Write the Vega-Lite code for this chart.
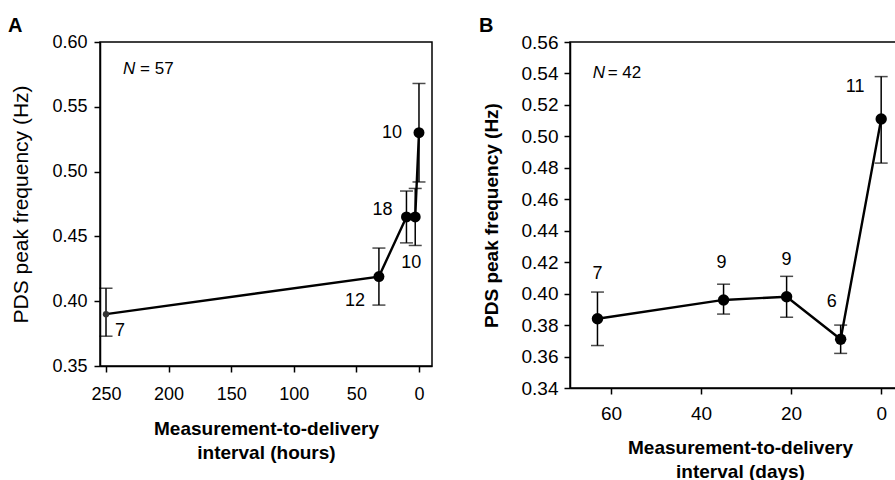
{
  "$schema": "https://vega.github.io/schema/vega-lite/v6.json",
  "padding": {"left": 7, "top": 15, "right": 0, "bottom": 0},
  "spacing": 45,
  "config": {
    "font": "Liberation Sans",
    "view": {"stroke": "black", "strokeWidth": 1.5},
    "axis": {"grid": false, "domainColor": "black", "domainWidth": 1.5, "tickColor": "black", "tickWidth": 1.5, "tickSize": 6, "labelColor": "black", "titleColor": "black", "labelFont": "Liberation Sans", "titleFont": "Liberation Sans"},
    "title": {"font": "Liberation Sans", "color": "black"},
    "text": {"font": "Liberation Sans", "color": "black"}
  },
  "hconcat": [
    {
      "width": 332,
      "height": 324,
      "title": {"text": "A", "anchor": "start", "frame": "group", "dx": -92, "fontSize": 20, "fontWeight": "bold", "offset": -3},
      "data": {"values": [
        {"h": 250, "f": 0.390, "lo": 0.373, "hi": 0.410, "n": "7"},
        {"h": 32, "f": 0.419, "lo": 0.397, "hi": 0.441, "n": "12"},
        {"h": 10, "f": 0.465, "lo": 0.445, "hi": 0.485, "n": "18"},
        {"h": 3, "f": 0.465, "lo": 0.443, "hi": 0.487, "n": "10"},
        {"h": 0, "f": 0.530, "lo": 0.492, "hi": 0.568, "n": "10"}
      ]},
      "encoding": {
        "x": {"field": "h", "type": "quantitative",
          "scale": {"domain": [-10.4, 254.8], "reverse": true, "nice": false, "zero": false},
          "axis": {"values": [0, 50, 100, 150, 200, 250], "labelFontSize": 18, "labelPadding": 13, "titleFontSize": 19, "titleFontWeight": "bold", "titlePadding": 16, "titleLineHeight": 24,
            "title": ["Measurement-to-delivery", "interval (hours)"]}},
        "y": {"field": "f", "type": "quantitative", "title": "PDS peak frequency (Hz)",
          "scale": {"domain": [0.35, 0.60], "nice": false, "zero": false},
          "axis": {"values": [0.35, 0.40, 0.45, 0.50, 0.55, 0.60], "format": ".2f", "labelFontSize": 18, "labelPadding": 7, "titleFontSize": 21, "titleFontWeight": "normal", "titlePadding": 20}}
      },
      "layer": [
        {"mark": {"type": "rule", "strokeWidth": 1.5, "color": "black"},
          "encoding": {"y": {"field": "lo", "type": "quantitative", "title": "PDS peak frequency (Hz)"}, "y2": {"field": "hi"}}},
        {"mark": {"type": "tick", "orient": "horizontal", "size": 13, "thickness": 1.5, "color": "black"},
          "encoding": {"y": {"field": "lo", "type": "quantitative", "title": "PDS peak frequency (Hz)"}}},
        {"mark": {"type": "tick", "orient": "horizontal", "size": 13, "thickness": 1.5, "color": "black"},
          "encoding": {"y": {"field": "hi", "type": "quantitative", "title": "PDS peak frequency (Hz)"}}},
        {"mark": {"type": "line", "color": "black", "strokeWidth": 2.4}},
        {"transform": [{"filter": "datum.h != 250"}],
          "mark": {"type": "point", "filled": true, "shape": "circle", "size": 120, "color": "black", "opacity": 1}},
        {"transform": [{"filter": "datum.h == 250"}],
          "mark": {"type": "point", "filled": true, "shape": "circle", "size": 40, "color": "#333333", "opacity": 1}},
        {"transform": [{"filter": "datum.h == 250"}],
          "mark": {"type": "text", "fontSize": 18, "baseline": "middle", "dx": 14, "dy": 17}, "encoding": {"text": {"field": "n"}}},
        {"transform": [{"filter": "datum.h == 32"}],
          "mark": {"type": "text", "fontSize": 18, "baseline": "middle", "dx": -24, "dy": 24}, "encoding": {"text": {"field": "n"}}},
        {"transform": [{"filter": "datum.h == 10"}],
          "mark": {"type": "text", "fontSize": 18, "baseline": "middle", "dx": -24, "dy": -7}, "encoding": {"text": {"field": "n"}}},
        {"transform": [{"filter": "datum.h == 3"}],
          "mark": {"type": "text", "fontSize": 18, "baseline": "middle", "dx": -4, "dy": 46}, "encoding": {"text": {"field": "n"}}},
        {"transform": [{"filter": "datum.h == 0"}],
          "mark": {"type": "text", "fontSize": 18, "baseline": "middle", "dx": -27, "dy": 0}, "encoding": {"text": {"field": "n"}}},
        {"transform": [{"filter": "datum.h == 250"}],
          "mark": {"type": "text", "text": "N", "fontStyle": "italic", "fontSize": 17, "align": "left", "baseline": "middle"},
          "encoding": {"x": {"datum": 236.4, "type": "quantitative"}, "y": {"datum": 0.579, "type": "quantitative"}}},
        {"transform": [{"filter": "datum.h == 250"}],
          "mark": {"type": "text", "text": "= 57", "fontSize": 17, "align": "left", "baseline": "middle", "dx": 17},
          "encoding": {"x": {"datum": 236.4, "type": "quantitative"}, "y": {"datum": 0.579, "type": "quantitative"}}}
      ]
    },
    {
      "width": 340,
      "height": 346,
      "title": {"text": "B", "anchor": "start", "frame": "group", "dx": -91, "fontSize": 20, "fontWeight": "bold", "offset": -3},
      "data": {"values": [
        {"d": 63, "f": 0.384, "lo": 0.367, "hi": 0.401, "n": "7"},
        {"d": 35, "f": 0.396, "lo": 0.387, "hi": 0.406, "n": "9"},
        {"d": 21, "f": 0.398, "lo": 0.385, "hi": 0.411, "n": "9"},
        {"d": 9, "f": 0.371, "lo": 0.362, "hi": 0.380, "n": "6"},
        {"d": 0, "f": 0.511, "lo": 0.483, "hi": 0.538, "n": "11"}
      ]},
      "encoding": {
        "x": {"field": "d", "type": "quantitative",
          "scale": {"domain": [-6.4, 69.1], "reverse": true, "nice": false, "zero": false},
          "axis": {"values": [0, 20, 40, 60], "labelFontSize": 19, "labelPadding": 10, "titleFontSize": 19, "titleFontWeight": "bold", "titlePadding": 15, "titleLineHeight": 24,
            "title": ["Measurement-to-delivery", "interval (days)"]}},
        "y": {"field": "f", "type": "quantitative", "title": "PDS peak frequency (Hz)",
          "scale": {"domain": [0.34, 0.56], "nice": false, "zero": false},
          "axis": {"values": [0.34, 0.36, 0.38, 0.40, 0.42, 0.44, 0.46, 0.48, 0.50, 0.52, 0.54, 0.56], "format": ".2f", "labelFontSize": 19, "labelPadding": 6, "titleFontSize": 19, "titleFontWeight": "bold", "titlePadding": 20}}
      },
      "layer": [
        {"mark": {"type": "rule", "strokeWidth": 1.5, "color": "black"},
          "encoding": {"y": {"field": "lo", "type": "quantitative", "title": "PDS peak frequency (Hz)"}, "y2": {"field": "hi"}}},
        {"mark": {"type": "tick", "orient": "horizontal", "size": 13, "thickness": 1.5, "color": "black"},
          "encoding": {"y": {"field": "lo", "type": "quantitative", "title": "PDS peak frequency (Hz)"}}},
        {"mark": {"type": "tick", "orient": "horizontal", "size": 13, "thickness": 1.5, "color": "black"},
          "encoding": {"y": {"field": "hi", "type": "quantitative", "title": "PDS peak frequency (Hz)"}}},
        {"mark": {"type": "line", "color": "black", "strokeWidth": 2.4}},
        {"mark": {"type": "point", "filled": true, "shape": "circle", "size": 130, "color": "black", "opacity": 1}},
        {"transform": [{"filter": "datum.d == 63"}],
          "mark": {"type": "text", "fontSize": 18, "baseline": "middle", "dx": 0, "dy": -45}, "encoding": {"text": {"field": "n"}}},
        {"transform": [{"filter": "datum.d == 35"}],
          "mark": {"type": "text", "fontSize": 18, "baseline": "middle", "dx": -2, "dy": -37}, "encoding": {"text": {"field": "n"}}},
        {"transform": [{"filter": "datum.d == 21"}],
          "mark": {"type": "text", "fontSize": 18, "baseline": "middle", "dx": 0, "dy": -37}, "encoding": {"text": {"field": "n"}}},
        {"transform": [{"filter": "datum.d == 9"}],
          "mark": {"type": "text", "fontSize": 18, "baseline": "middle", "dx": -9, "dy": -37}, "encoding": {"text": {"field": "n"}}},
        {"transform": [{"filter": "datum.d == 0"}],
          "mark": {"type": "text", "fontSize": 18, "baseline": "middle", "dx": -26, "dy": -32}, "encoding": {"text": {"field": "n"}}},
        {"transform": [{"filter": "datum.d == 63"}],
          "mark": {"type": "text", "text": "N", "fontStyle": "italic", "fontSize": 17, "align": "left", "baseline": "middle"},
          "encoding": {"x": {"datum": 64.07, "type": "quantitative"}, "y": {"datum": 0.5405, "type": "quantitative"}}},
        {"transform": [{"filter": "datum.d == 63"}],
          "mark": {"type": "text", "text": "= 42", "fontSize": 17, "align": "left", "baseline": "middle", "dx": 15},
          "encoding": {"x": {"datum": 64.07, "type": "quantitative"}, "y": {"datum": 0.5405, "type": "quantitative"}}}
      ]
    }
  ]
}
